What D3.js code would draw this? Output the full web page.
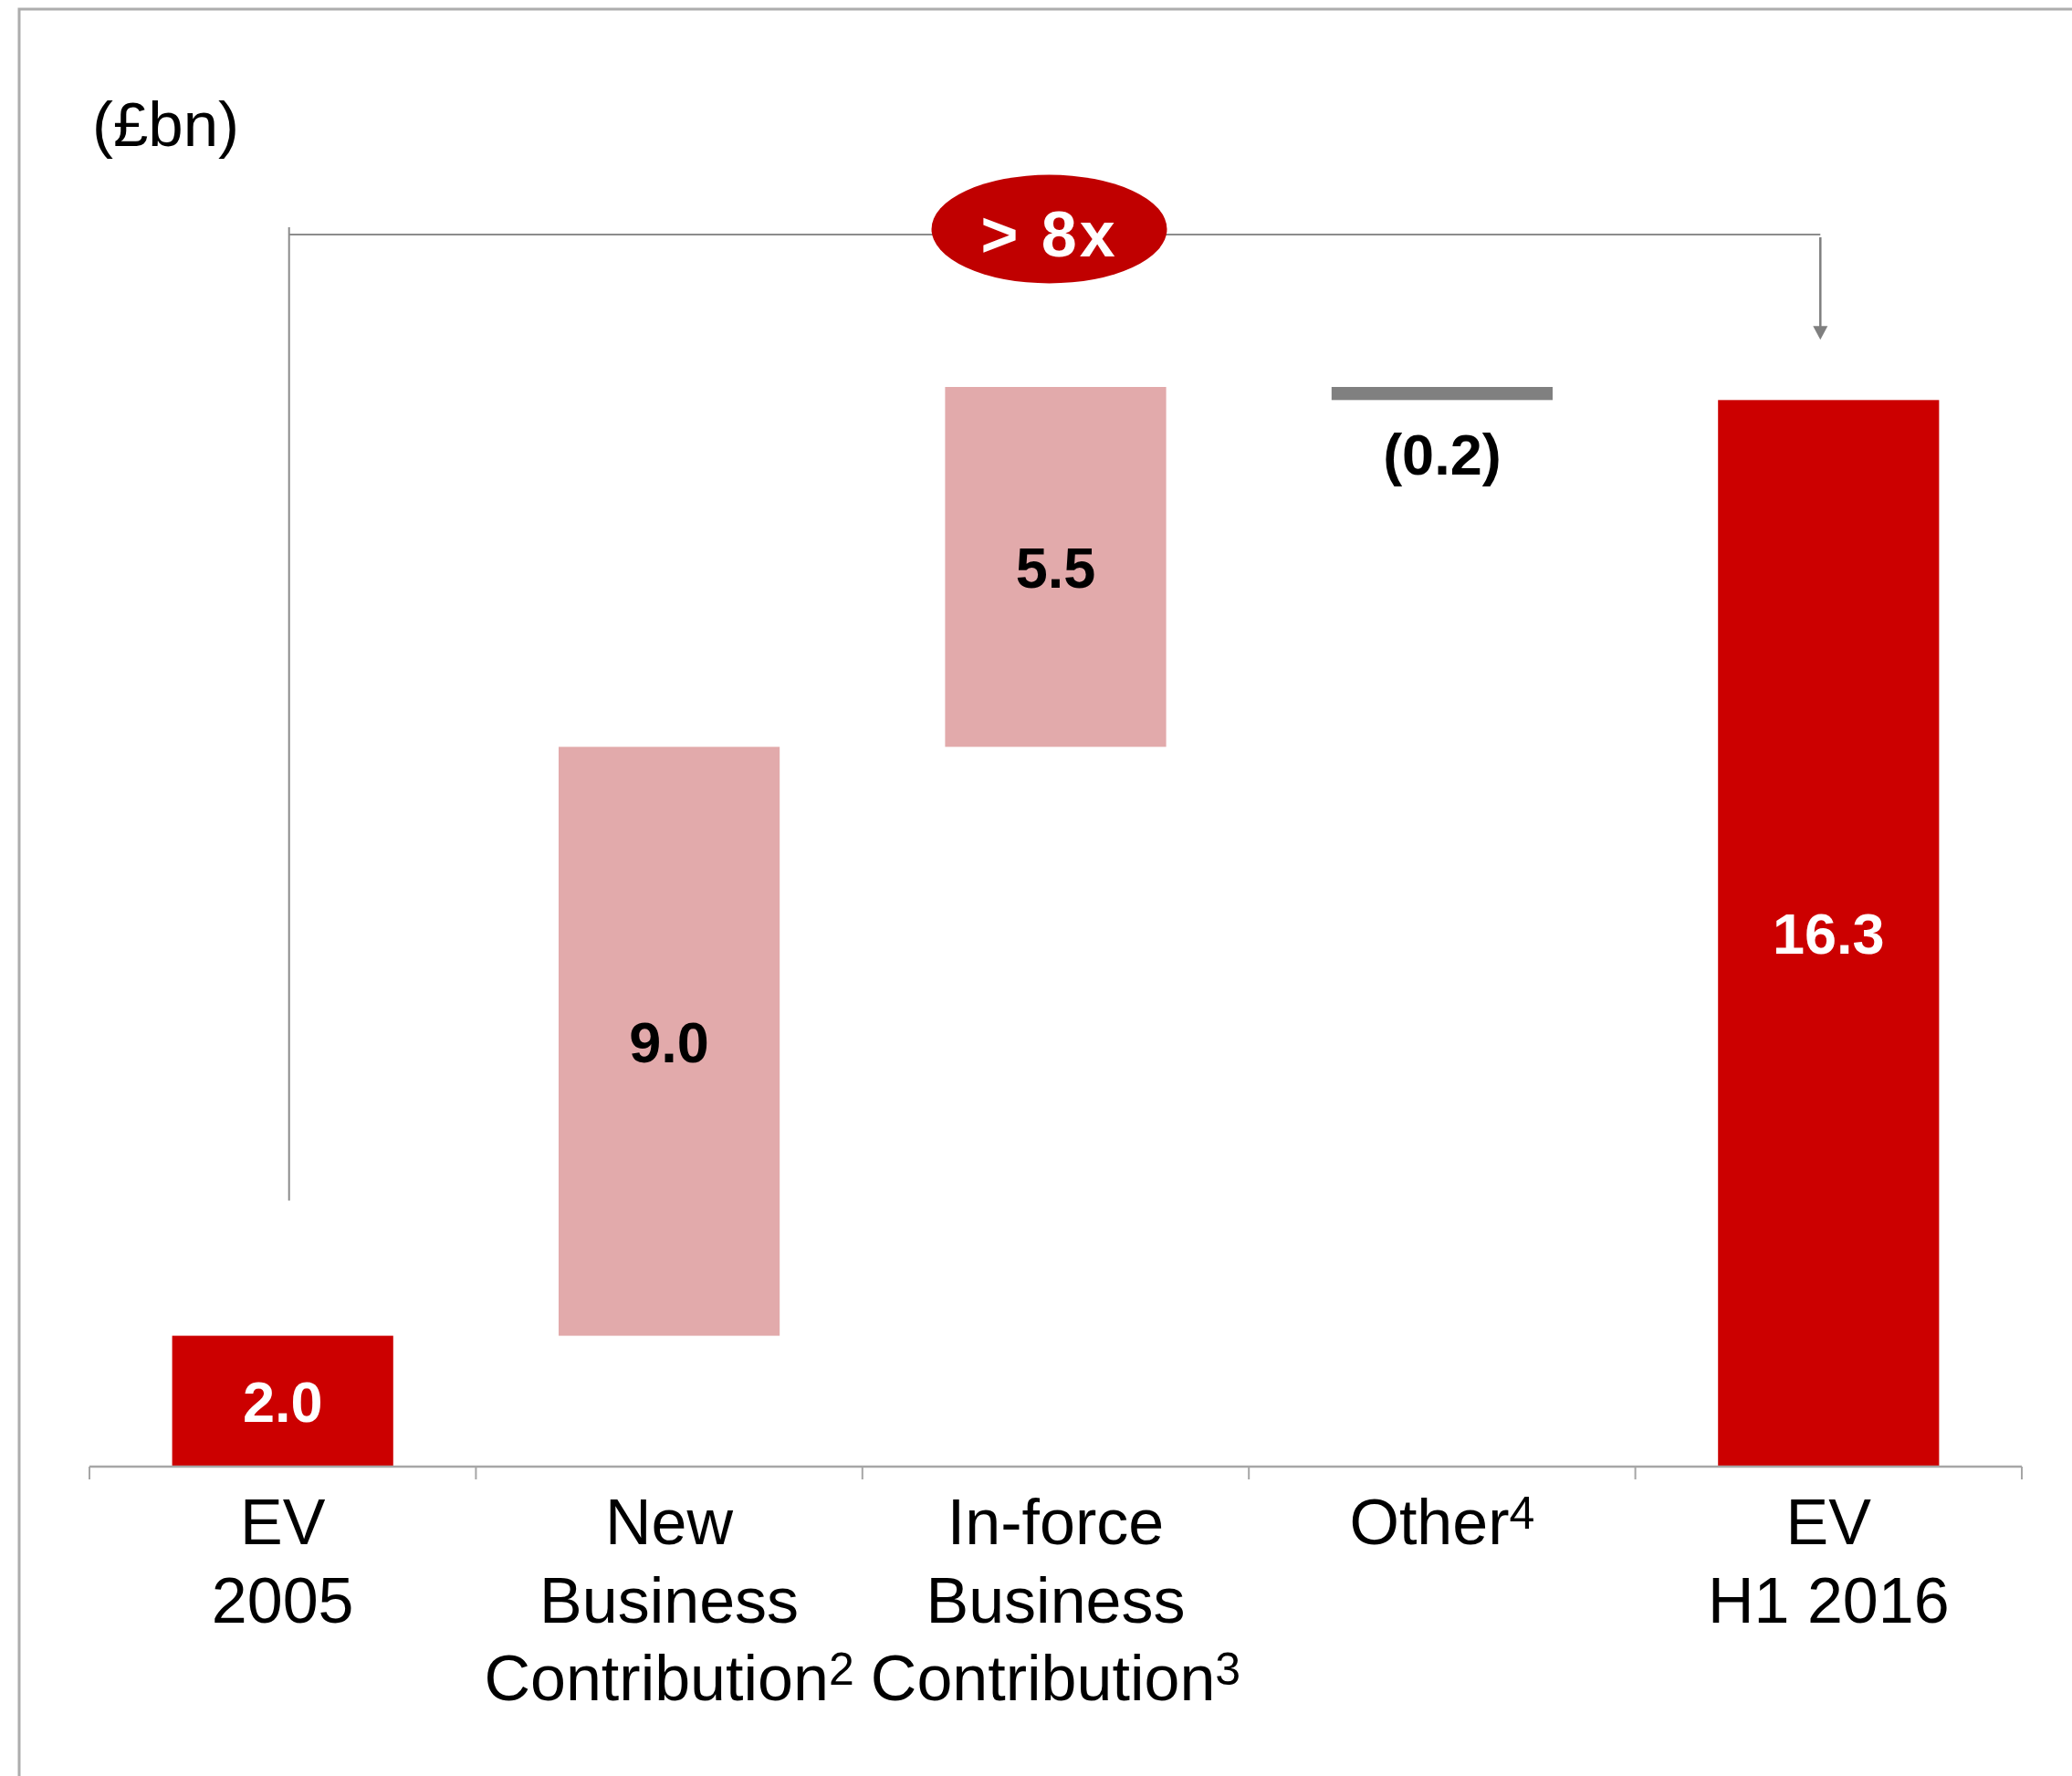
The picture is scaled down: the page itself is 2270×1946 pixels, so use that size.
<!DOCTYPE html>
<html>
<head>
<meta charset="utf-8">
<script src="https://cdn.jsdelivr.net/npm/d3@7"></script>
<style>
  html, body { margin: 0; padding: 0; background: #ffffff; }
  svg { display: block; font-family: "Liberation Sans", Arial, sans-serif; }
</style>
</head>
<body>
<svg id="chart" width="2270" height="1946"></svg>
<script>
// Embedded value bridge, £bn
const categories = ["EV 2005", "New Business Contribution", "In-force Business Contribution", "Other", "EV H1 2016"];
const values = [2.0, 9.0, 5.5, -0.2, 16.3];
const kinds = ["total", "delta", "delta", "delta", "total"];
const valueLabels = ["2.0", "9.0", "5.5", "(0.2)", "16.3"];
const labelLines = [["EV", "2005"], ["New", "Business", "Contribution"], ["In-force", "Business", "Contribution"], ["Other"], ["EV", "H1 2016"]];
const footnotes = [null, "2", "3", "4", null];
const unitLabel = "(£bn)";
const multipleLabel = "> 8x";

const colors = {
  total: "#CC0000",
  up: "#E2AAAB",
  down: "#808080",
  badge: "#C00000",
  axis: "#A6A6A6",
  bracket: "#8C8C8C",
  frame: "#ADADAD"
};

const svg = d3.select("#chart");

// running totals for the waterfall
let run = 0;
const steps = values.map((v, i) => {
  let a, b;
  if (kinds[i] === "total") { a = 0; b = v; run = v; }
  else { a = run; b = run + v; run = b; }
  return { cat: categories[i], v, lo: Math.min(a, b), hi: Math.max(a, b), kind: kinds[i], i };
});

const x = d3.scaleBand().domain(categories).range([98, 2215]).padding(0);
const y = d3.scaleLinear().domain([0, d3.max(steps, d => d.hi)]).range([1607, 424]);
const barW = x.bandwidth() * 0.572;
const cx = c => x(c) + x.bandwidth() / 2;

// frame
svg.append("path")
  .attr("d", "M21,1946V10H2270")
  .attr("fill", "none")
  .attr("stroke", colors.frame)
  .attr("stroke-width", 3);

// unit label
svg.append("text")
  .attr("x", 101).attr("y", 160)
  .attr("font-size", 69)
  .attr("fill", "#000")
  .text(unitLabel);

// bars
svg.append("g").selectAll("rect").data(steps).join("rect")
  .attr("x", d => cx(d.cat) - barW / 2)
  .attr("width", barW)
  .attr("y", d => y(d.hi))
  .attr("height", d => y(d.lo) - y(d.hi))
  .attr("fill", d => d.kind === "total" ? colors.total : (d.v >= 0 ? colors.up : colors.down));

// value labels
const vfs = 63;
svg.append("g").selectAll("text").data(steps).join("text")
  .attr("x", d => cx(d.cat))
  .attr("y", d => d.v >= 0 ? (y(d.lo) + y(d.hi)) / 2 + vfs * 0.358 : y(d.lo) + 82)
  .attr("text-anchor", "middle")
  .attr("font-size", vfs)
  .attr("font-weight", "bold")
  .attr("fill", d => d.kind === "total" ? "#ffffff" : "#000000")
  .text(d => valueLabels[d.i]);

// category axis: baseline with ticks at band edges
const axisG = svg.append("g");
const y0 = y(0);
axisG.append("line")
  .attr("x1", x.range()[0]).attr("x2", x.range()[1])
  .attr("y1", y0).attr("y2", y0)
  .attr("stroke", colors.axis).attr("stroke-width", 2.5);
const edges = categories.map(c => x(c)).concat([x.range()[1]]);
axisG.selectAll("line.tick").data(edges).join("line")
  .attr("class", "tick")
  .attr("x1", d => d).attr("x2", d => d)
  .attr("y1", y0).attr("y2", y0 + 14)
  .attr("stroke", colors.axis).attr("stroke-width", 2);

// category labels; the last line may carry a footnote marker
const lfs = 70, lineH = 85.5, firstBase = 1692;
const lab = svg.append("g").selectAll("text").data(categories).join("text")
  .attr("y", firstBase)
  .attr("font-size", lfs)
  .attr("fill", "#000");
lab.each(function (c, i) {
  const t = d3.select(this);
  const n = labelLines[i].length;
  labelLines[i].forEach((ln, k) => {
    const span = t.append("tspan")
      .attr("y", firstBase + k * lineH)
      .text(ln);
    let w = span.node().getComputedTextLength();
    if (k === n - 1 && footnotes[i]) {
      const sup = t.append("tspan")
        .attr("font-size", 50)
        .attr("dy", -17)
        .text(footnotes[i]);
      w += sup.node().getComputedTextLength();
    }
    span.attr("x", cx(c) - w / 2);
  });
});

// growth bracket from the opening value to the closing value
const first = steps[0], last = steps[steps.length - 1];
const bx0 = cx(first.cat) + 7;
const bx1 = cx(last.cat) - 9;
const bracketY = 257;
const br = svg.append("g").attr("stroke", colors.bracket).attr("stroke-width", 2).attr("fill", "none");
br.append("line").attr("x1", bx0).attr("x2", bx0).attr("y1", bracketY - 8).attr("y2", y(first.hi) - 148);
br.append("line").attr("x1", bx0).attr("x2", bx1).attr("y1", bracketY).attr("y2", bracketY);
const tipY = y(last.hi) - 66;
br.append("line").attr("x1", bx1).attr("x2", bx1).attr("y1", bracketY + 3).attr("y2", tipY - 14)
  .attr("stroke", "#7F7F7F").attr("stroke-width", 2.5);
svg.append("path")
  .attr("d", `M${bx1 - 8},${tipY - 15}L${bx1 + 8},${tipY - 15}L${bx1},${tipY}Z`)
  .attr("fill", "#7F7F7F");

// multiple badge
const ex = cx(categories[2]) - 7, ey = 251;
svg.append("ellipse")
  .attr("cx", ex).attr("cy", ey)
  .attr("rx", 129).attr("ry", 59.5)
  .attr("fill", colors.badge);
svg.append("text")
  .attr("x", ex).attr("y", ey + 30)
  .attr("text-anchor", "middle")
  .attr("font-size", 70)
  .attr("font-weight", "bold")
  .attr("letter-spacing", 3)
  .attr("fill", "#ffffff")
  .text(multipleLabel);
</script>
</body>
</html>
